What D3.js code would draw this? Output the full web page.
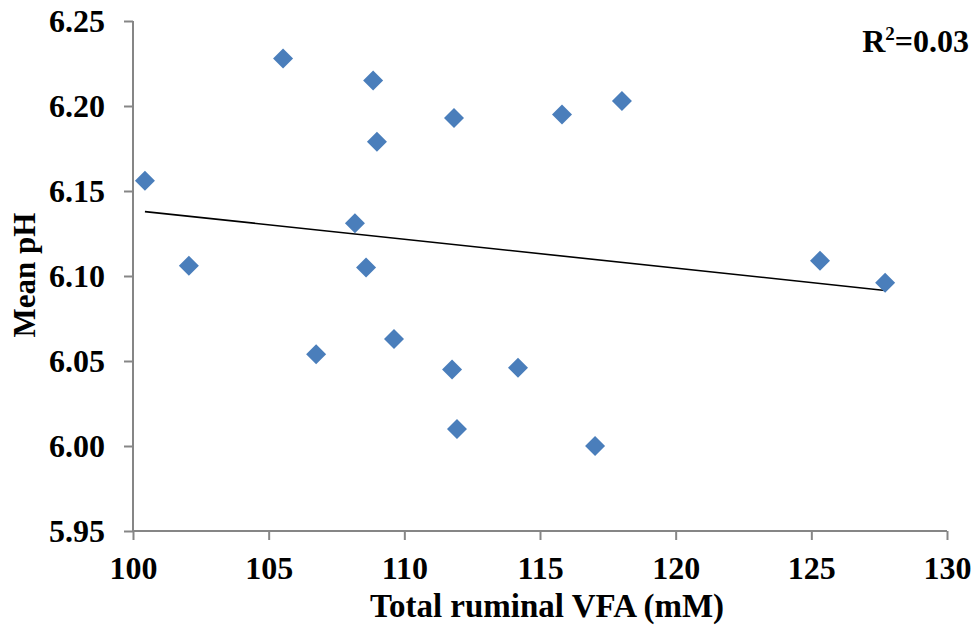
<!DOCTYPE html>
<html>
<head>
<meta charset="utf-8">
<script src="https://cdn.jsdelivr.net/npm/d3@7/dist/d3.min.js"></script>
<style>
  html, body { margin: 0; padding: 0; background: #fff; }
  text { font-family: "Liberation Serif", "Times New Roman", serif; font-weight: bold; fill: #000; }
</style>
</head>
<body>
<svg id="chart" width="974" height="631"></svg>
<script>
// Total ruminal VFA (mM) vs mean ruminal pH
const vfa = [100.44, 102.06, 105.53, 106.75, 108.18, 108.59, 108.85, 108.99, 109.62,
             111.83, 111.76, 111.94, 114.19, 115.81, 117.03, 118.02, 125.32, 127.72];
const meanPH = [6.156, 6.106, 6.228, 6.054, 6.131, 6.105, 6.215, 6.179, 6.063,
                6.193, 6.045, 6.010, 6.046, 6.195, 6.000, 6.203, 6.109, 6.096];
const xTicks = [100, 105, 110, 115, 120, 125, 130];
const yTicks = [5.95, 6.00, 6.05, 6.10, 6.15, 6.20, 6.25];
const r2Label = "0.03";

(function () {
const svg = d3.select("#chart");
const plotLeft = 133, plotRight = 947, plotTop = 21, plotBottom = 531;
const fontSize = "32px";

const x = d3.scaleLinear().domain([100, 130]).range([plotLeft, plotRight]);
const y = d3.scaleLinear().domain([5.95, 6.25]).range([plotBottom, plotTop]);

const axisColor = "#868686";

// y axis
const yAxis = svg.append("g")
  .attr("transform", `translate(${plotLeft},0)`)
  .call(d3.axisLeft(y).tickValues(yTicks).tickFormat(d3.format(".2f")).tickSize(9).tickPadding(19));
// x axis
const xAxis = svg.append("g")
  .attr("transform", `translate(0,${plotBottom})`)
  .call(d3.axisBottom(x).tickValues(xTicks).tickFormat(d3.format("d")).tickSize(9).tickPadding(16));

[yAxis, xAxis].forEach(g => {
  g.select(".domain").attr("stroke", axisColor).attr("stroke-width", 2);
  g.selectAll(".tick line").attr("stroke", axisColor).attr("stroke-width", 2);
  g.selectAll(".tick text")
    .style("font-family", '"Liberation Serif", "Times New Roman", serif')
    .style("font-weight", "bold").style("font-size", fontSize).attr("fill", "#000");
});
// plain axis lines without outer ticks
yAxis.select(".domain").attr("d", `M0,${plotTop}V${plotBottom}`);
xAxis.select(".domain").attr("d", `M${plotLeft},0H${plotRight}`);

// linear trendline (least squares)
const n = vfa.length;
const mx = d3.mean(vfa), my = d3.mean(meanPH);
let sxy = 0, sxx = 0;
for (let i = 0; i < n; i++) { sxy += (vfa[i] - mx) * (meanPH[i] - my); sxx += (vfa[i] - mx) ** 2; }
const slope = sxy / sxx, intercept = my - slope * mx;
const x0 = d3.min(vfa), x1 = d3.max(vfa);
svg.append("line")
  .attr("x1", x(x0)).attr("y1", y(intercept + slope * x0))
  .attr("x2", x(x1)).attr("y2", y(intercept + slope * x1))
  .attr("stroke", "#000").attr("stroke-width", 1.6);

// diamond markers
const diamond = "M0,-10L10,0L0,10L-10,0Z";
svg.append("g").selectAll("path")
  .data(vfa.map((v, i) => [v, meanPH[i]]))
  .join("path")
  .attr("d", diamond)
  .attr("transform", d => `translate(${x(d[0])},${y(d[1])})`)
  .attr("fill", "#4A7EBB");

// axis titles
svg.append("text")
  .attr("x", 547).attr("y", 617)
  .attr("text-anchor", "middle").style("font-size", "33px")
  .text("Total ruminal VFA (mM)");
svg.append("text")
  .attr("transform", `translate(35,275) rotate(-90)`)
  .attr("text-anchor", "middle").style("font-size", "31px")
  .text("Mean pH");

// R² annotation
const r2 = svg.append("text").attr("x", 969).attr("y", 52).attr("text-anchor", "end").style("font-size", fontSize);
r2.append("tspan").text("R");
r2.append("tspan").attr("dy", -12).style("font-size", "19px").text("2");
r2.append("tspan").attr("dy", 12).text("=" + r2Label);
})();
</script>
</body>
</html>
